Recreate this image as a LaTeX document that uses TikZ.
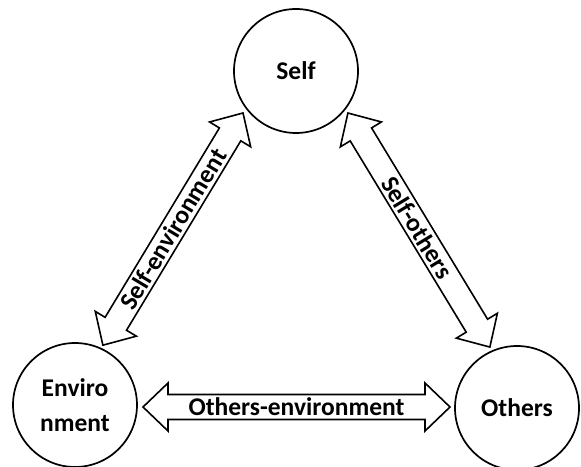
\documentclass[tikz,border=0pt]{standalone}
\usepackage{fontspec}
\setmainfont{Carlito}
\usetikzlibrary{calc}
\tikzset{
  bubble/.style={draw, line width=1.7pt, circle, minimum size=124pt, inner sep=0pt, align=center,
    font=\fontsize{25.5}{35}\selectfont\bfseries},
  arrowline/.style={draw, line width=1.6pt, line join=miter, fill=white},
  lbl/.style={font=\fontsize{25.5}{30}\selectfont\bfseries, inner sep=0pt}
}
\newcommand\dblarrow[2]{%
  \path ($(#1)!25pt!(#2)$) coordinate (h1) ($(#2)!25pt!(#1)$) coordinate (h2);
  \draw[arrowline] (#1) -- ($(h1)!24pt!-90:(#2)$) -- ($(h1)!12.5pt!-90:(#2)$)
    -- ($(h2)!12.5pt!90:(#1)$) -- ($(h2)!24pt!90:(#1)$) -- (#2)
    -- ($(h2)!24pt!-90:(#1)$) -- ($(h2)!12.5pt!-90:(#1)$)
    -- ($(h1)!12.5pt!90:(#2)$) -- ($(h1)!24pt!90:(#2)$) -- cycle;}
\begin{document}
\begin{tikzpicture}[x=1pt,y=1pt]
\useasboundingbox (0,0) rectangle (581,466);
\fill[white] (0,0) rectangle (581,466);
\node[bubble] (self) at (296,395) {Self};
\node[bubble] (env) at (75,61) {Enviro\\nment};
\node[bubble] (oth) at (517,58) {Others};
\coordinate (se1) at ($(env.center)+(65:66)$);
\coordinate (se2) at ($(self.center)+(218.4:67.6)$);
\coordinate (so1) at ($(self.center)+(-39:66.8)$);
\coordinate (so2) at ($(oth.center)+(114:66.7)$);
\coordinate (oe1) at ($(env.center)+(68,-2)$);
\coordinate (oe2) at ($(oth.center)+(-67,1)$);
\dblarrow{se1}{se2}
\dblarrow{so1}{so2}
\dblarrow{oe1}{oe2}
\path (se1) -- node[sloped, lbl] {Self-environment} (se2);
\path (so1) -- node[sloped, lbl, xshift=-3pt] {Self-others} (so2);
\path (oe1) -- node[sloped, lbl] {Others-environment} (oe2);
\end{tikzpicture}
\end{document}
